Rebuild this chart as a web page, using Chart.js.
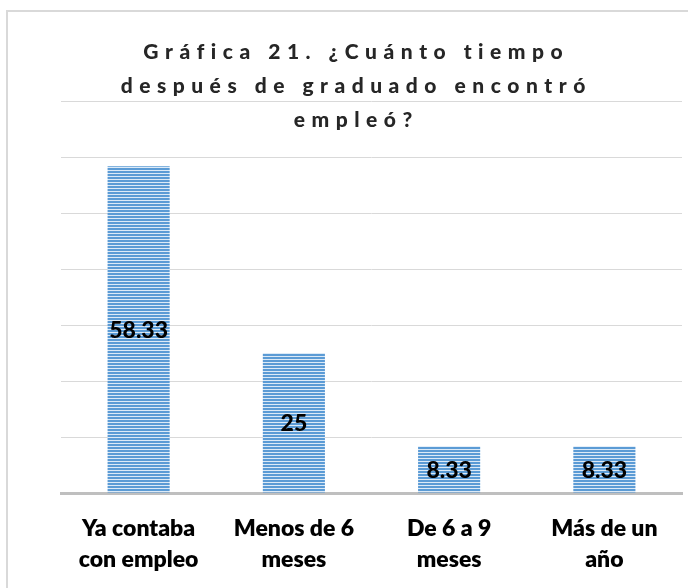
<!DOCTYPE html>
<html>
<head>
<meta charset="utf-8">
<script src="https://cdn.jsdelivr.net/npm/chart.js@4.4.1/dist/chart.umd.min.js"></script>
<style>
  html, body { margin: 0; padding: 0; background: #ffffff; }
  #wrap { position: relative; width: 688px; height: 588px; overflow: hidden; }
  #frame { position: absolute; left: 6px; top: 10px; width: 720px; height: 620px;
           border-left: 2px solid #d9d9d9; border-top: 2px solid #d9d9d9; pointer-events: none; }
  canvas { position: absolute; left: 0; top: 0; }
</style>
</head>
<body>
<div id="wrap">
  <canvas id="c" width="688" height="588"></canvas>
  <div id="frame"></div>
</div>
<script>
const titleLines = ["Gráfica 21. ¿Cuánto tiempo", "después de graduado encontró", "empleó?"];
const categories = [["Ya contaba", "con empleo"], ["Menos de 6", "meses"], ["De 6 a 9", "meses"], ["Más de un", "año"]];
const values = [58.33, 25, 8.33, 8.33];
const yMin = 0;
const yMax = 70;
const yStep = 10;

function makeStripePattern() {
  const p = document.createElement('canvas');
  p.width = 4; p.height = 3;
  const g = p.getContext('2d');
  g.fillStyle = '#5b9bd5';
  g.fillRect(0, 0, 4, 2);
  g.fillStyle = '#dceaf7';
  g.fillRect(0, 2, 4, 1);
  return document.getElementById('c').getContext('2d').createPattern(p, 'repeat');
}

const dataLabelPlugin = {
  id: 'dataLabels',
  afterDatasetsDraw(chart) {
    const ctx = chart.ctx;
    const meta = chart.getDatasetMeta(0);
    ctx.save();
    ctx.font = '900 23px Lato';
    ctx.fillStyle = '#000000';
    ctx.textAlign = 'center';
    ctx.textBaseline = 'middle';
    meta.data.forEach((bar, i) => {
      const v = chart.data.datasets[0].data[i];
      ctx.fillText(String(v), bar.x, (bar.y + bar.base) / 2 + 1);
    });
    ctx.restore();
  }
};

const titlePlugin = {
  id: 'spacedTitle',
  afterDraw(chart) {
    const ctx = chart.ctx;
    const spacing = 6.5;
    const cx = 353;
    const baselines = [59, 93, 127];
    ctx.save();
    ctx.font = '900 21px Lato';
    ctx.fillStyle = '#262626';
    ctx.textAlign = 'left';
    ctx.textBaseline = 'alphabetic';
    titleLines.forEach((line, i) => {
      const chars = Array.from(line);
      const widths = chars.map(ch => ctx.measureText(ch).width);
      const total = widths.reduce((a, b) => a + b, 0) + spacing * (chars.length - 1);
      let x = cx - total / 2;
      chars.forEach((ch, j) => {
        ctx.fillText(ch, x, baselines[i]);
        x += widths[j] + spacing;
      });
    });
    ctx.restore();
  }
};

new Chart(document.getElementById('c'), {
  type: 'bar',
  data: {
    labels: categories,
    datasets: [{
      data: values,
      backgroundColor: makeStripePattern(),
      borderWidth: 0,
      categoryPercentage: 1.0,
      barPercentage: 0.4
    }]
  },
  options: {
    responsive: false,
    animation: false,
    layout: { padding: { left: 61, right: 6, top: 101, bottom: 0 } },
    plugins: {
      legend: { display: false },
      title: { display: false },
      tooltip: { enabled: false }
    },
    scales: {
      x: {
        grid: { display: false },
        border: { display: true, color: '#bfbfbf', width: 3 },
        ticks: {
          color: '#000000',
          font: { family: 'Lato', weight: '800', size: 23, lineHeight: 1.35 },
          padding: 12,
          maxRotation: 0,
          autoSkip: false
        },
        afterFit(scale) { scale.height = 95; }
      },
      y: {
        min: yMin,
        max: yMax,
        ticks: { display: false, stepSize: yStep },
        grid: { color: '#d9d9d9', lineWidth: 1, drawTicks: false },
        border: { display: false },
        afterFit(scale) { scale.width = 0; }
      }
    }
  },
  plugins: [dataLabelPlugin, titlePlugin]
});
</script>
</body>
</html>
